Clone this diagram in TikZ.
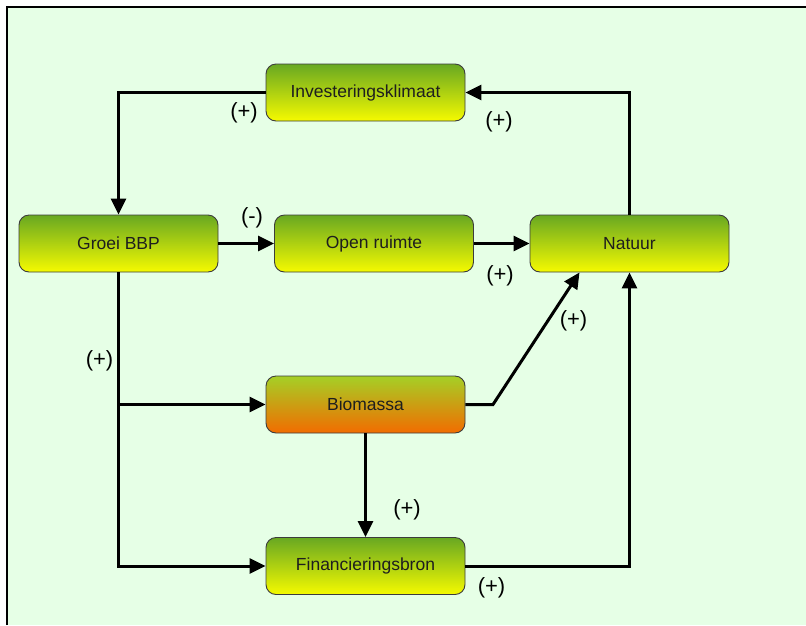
\documentclass[tikz,border=0pt]{standalone}
\usepackage{fontspec}
\setmainfont{Liberation Sans}
\usetikzlibrary{arrows.meta}

\definecolor{achtergrond}{RGB}{230,255,230}
\definecolor{boxtop}{RGB}{104,168,34}
\definecolor{boxbottom}{RGB}{245,250,0}
\definecolor{biotop}{RGB}{165,208,38}
\definecolor{biobottom}{RGB}{242,108,0}
\definecolor{rand}{RGB}{60,60,60}
\definecolor{tekst}{RGB}{30,30,30}

\tikzset{
	box/.style={draw=rand, line width=0.9pt, rounded corners=10pt,
		minimum width=199pt, minimum height=57pt, inner sep=0pt,
		top color=boxtop, bottom color=boxbottom,
		text=tekst, font=\fontsize{17.5}{20}\selectfont},
	link/.style={line width=3pt, -{Triangle[length=16pt,width=15pt]}},
	sign/.style={font=\fontsize{22}{24}\selectfont, inner sep=0pt}
}

\begin{document}
\begin{tikzpicture}[x=1pt,y=-1pt]
			\useasboundingbox (0,0) rectangle (806,625);
			\fill [white] (0,0) rectangle (806,625);
			\fill [achtergrond] (7,7) rectangle (806,625);
			\draw [line width=1.5pt] (7,625) -- (7,7) -- (806,7);
			% boxes
			\node [box] (klimaat) at (365.5,92.5) {Investeringsklimaat};
			\node [box] (bbp) at (118.5,243.5) {Groei BBP};
			\node [box] (ruimte) at (374,243.5) {Open ruimte};
			\node [box] (natuur) at (629.5,243.5) {Natuur};
			\node [box, top color=biotop, bottom color=biobottom] (biomassa) at (365.5,404.5) {Biomassa};
			\node [box] (financiering) at (365.5,566) {Financieringsbron};
			% connectors
			\coordinate (knik) at (493,404.5);
			\coordinate (aftak) at (bbp.south |- biomassa.west);
			\draw [link] (klimaat.west) -| (bbp.north);
			\draw [link] (bbp) -- (ruimte);
			\draw [link] (ruimte) -- (natuur);
			\draw [link] (natuur.north) |- (klimaat.east);
			\draw [link] (bbp.south) |- (financiering.west);
			\draw [link] (aftak) -- (biomassa.west);
			\draw [link] (biomassa.east) -- (knik) -- ([xshift=-50pt]natuur.south);
			\draw [link] (biomassa) -- (financiering);
			\draw [link] (financiering.east) -| (natuur.south);
			% signs
			\node [sign] (s1) at (244,113) {(+)};
			\node [sign] (s2) at (252,218) {(-)};
			\node [sign] (s3) at (500,276) {(+)};
			\node [sign] (s4) at (499,122) {(+)};
			\node [sign] (s5) at (99.5,361) {(+)};
			\node [sign] (s6) at (573.5,320.5) {(+)};
			\node [sign] (s7) at (407,510) {(+)};
			\node [sign] (s8) at (491.5,587.5) {(+)};
\end{tikzpicture}
\end{document}
